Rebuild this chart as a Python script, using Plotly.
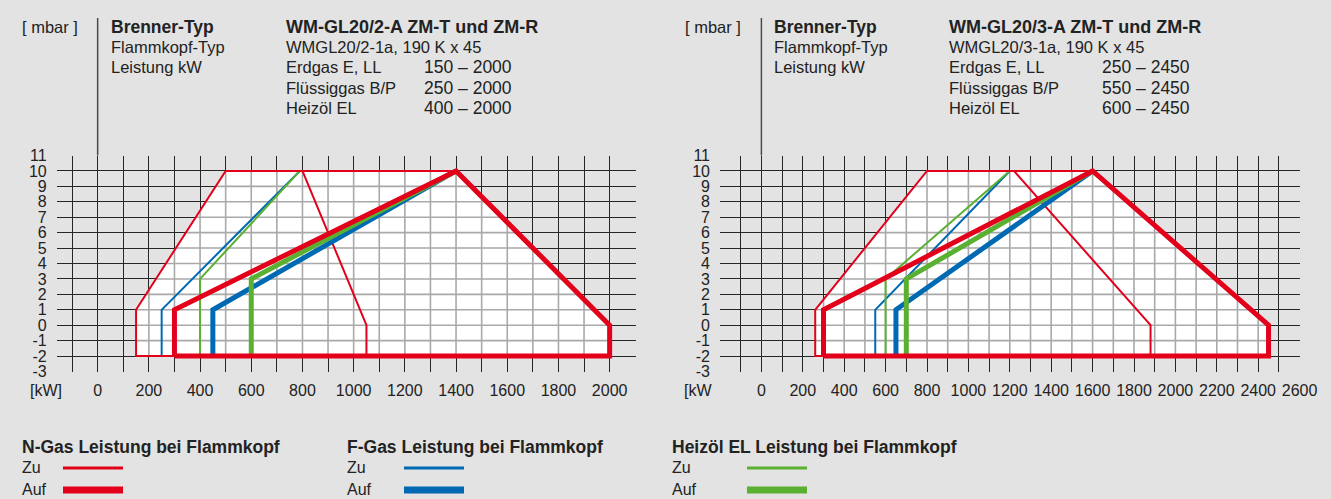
import plotly.graph_objects as go

W, H = 1331, 499
BG = "#e3e3e3"
RED, BLUE, GREEN = "#e3001b", "#0069b4", "#5ab031"
TXT = "#222222"
FONT = "Liberation Sans, Arial, Helvetica, sans-serif"

# ---------------- data: left chart (WM-GL20/2-A) ----------------
L_ENV_X = [150, 150, 500, 1400, 2000, 2000, 150]
L_ENV_Y = [-2, 1, 10, 10, 0, -2, -2]
L_NZU_X = [1050, 150, 150, 500, 1400, None, 800, 1050, 1050]
L_NZU_Y = [-2, -2, 1, 10, 10, None, 10, 0, -2]
L_NAUF_X = [300, 300, 1400, 2000, 2000, 300]
L_NAUF_Y = [-2, 1, 10, 0, -2, -2]
L_FZU_X = [250, 250, 790]
L_FZU_Y = [-2, 1, 10]
L_FAUF_X = [450, 450, 1400]
L_FAUF_Y = [-2, 1, 10]
L_HZU_X = [400, 400, 790]
L_HZU_Y = [-2, 3, 10]
L_HAUF_X = [600, 600, 1400]
L_HAUF_Y = [-2, 3, 10]

# ---------------- data: right chart (WM-GL20/3-A) ----------------
R_ENV_X = [260, 260, 800, 1600, 2450, 2450, 260]
R_ENV_Y = [-2, 1, 10, 10, 0, -2, -2]
R_NZU_X = [1880, 260, 260, 800, 1600, None, 1220, 1880, 1880]
R_NZU_Y = [-2, -2, 1, 10, 10, None, 10, 0, -2]
R_NAUF_X = [300, 300, 1600, 2450, 2450, 300]
R_NAUF_Y = [-2, 1, 10, 0, -2, -2]
R_FZU_X = [550, 550, 1200]
R_FZU_Y = [-2, 1, 10]
R_FAUF_X = [650, 650, 1600]
R_FAUF_Y = [-2, 1, 10]
R_HZU_X = [600, 600, 1200]
R_HZU_Y = [-2, 3, 10]
R_HAUF_X = [700, 700, 1600]
R_HAUF_Y = [-2, 3, 10]

Y_TICKS = list(range(-3, 12))
L_X_TICKS = list(range(0, 2001, 200))
R_X_TICKS = list(range(0, 2601, 200))
L_XRANGE = [-160, 2101]
R_XRANGE = [-200, 2601]

HEADERS = [
    {"title": "WM-GL20/2-A ZM-T und ZM-R", "kopf": "WMGL20/2-1a, 190 K x 45",
     "fuels": ["Erdgas E, LL", "Flüssiggas B/P", "Heizöl EL"],
     "ranges": ["150 – 2000", "250 – 2000", "400 – 2000"]},
    {"title": "WM-GL20/3-A ZM-T und ZM-R", "kopf": "WMGL20/3-1a, 190 K x 45",
     "fuels": ["Erdgas E, LL", "Flüssiggas B/P", "Heizöl EL"],
     "ranges": ["250 – 2450", "550 – 2450", "600 – 2450"]},
]
LEGEND_GROUPS = ["N-Gas Leistung bei Flammkopf", "F-Gas Leistung bei Flammkopf",
                 "Heizöl EL Leistung bei Flammkopf"]
LEGEND_COLORS = [RED, BLUE, GREEN]

GRID = "#262626"
GRID_IN = "#a9a9a9"


def clip(px, py, vertical, c):
    """Extent of the line x=c (vertical) or y=c inside the convex polygon."""
    hits = []
    for i in range(len(px) - 1):
        a = (px[i], py[i]) if vertical else (py[i], px[i])
        b = (px[i + 1], py[i + 1]) if vertical else (py[i + 1], px[i + 1])
        if a[0] == b[0]:
            if a[0] == c:
                hits += [a[1], b[1]]
        elif min(a[0], b[0]) <= c <= max(a[0], b[0]):
            t = (c - a[0]) / (b[0] - a[0])
            hits.append(a[1] + t * (b[1] - a[1]))
    return (min(hits), max(hits)) if hits else None


def inner_grid(px, py, xrng):
    gx, gy = [], []
    for c in range(int(xrng[0] // 100) * 100, int(xrng[1]) + 1, 100):
        r = clip(px, py, True, c)
        if r:
            gx += [c, c, None]
            gy += [r[0], r[1], None]
    for c in Y_TICKS:
        r = clip(px, py, False, c)
        if r:
            gx += [r[0], r[1], None]
            gy += [c, c, None]
    return gx, gy


fig = go.Figure()


def add_chart(xa, ya, env, xrng, series):
    ex, ey = env
    fig.add_trace(go.Scatter(x=ex, y=ey, xaxis=xa, yaxis=ya, mode="lines",
                             fill="toself", fillcolor="#ffffff",
                             line=dict(width=0), hoverinfo="skip", showlegend=False))
    gx, gy = inner_grid(ex, ey, xrng)
    fig.add_trace(go.Scatter(x=gx, y=gy, xaxis=xa, yaxis=ya, mode="lines",
                             line=dict(color=GRID_IN, width=1.6), connectgaps=False,
                             hoverinfo="skip", showlegend=False))
    for (sx, sy, col, w) in series:
        fig.add_trace(go.Scatter(x=sx, y=sy, xaxis=xa, yaxis=ya, mode="lines",
                                 line=dict(color=col, width=w), connectgaps=False,
                                 hoverinfo="skip", showlegend=False))


THIN, THICK = 2, 5
add_chart("x", "y", (L_ENV_X, L_ENV_Y), L_XRANGE, [
    (L_FZU_X, L_FZU_Y, BLUE, THIN), (L_HZU_X, L_HZU_Y, GREEN, THIN),
    (L_NZU_X, L_NZU_Y, RED, THIN),
    (L_FAUF_X, L_FAUF_Y, BLUE, THICK), (L_HAUF_X, L_HAUF_Y, GREEN, THICK),
    (L_NAUF_X, L_NAUF_Y, RED, THICK)])
add_chart("x2", "y2", (R_ENV_X, R_ENV_Y), R_XRANGE, [
    (R_FZU_X, R_FZU_Y, BLUE, THIN), (R_HZU_X, R_HZU_Y, GREEN, THIN),
    (R_NZU_X, R_NZU_Y, RED, THIN),
    (R_FAUF_X, R_FAUF_Y, BLUE, THICK), (R_HAUF_X, R_HAUF_Y, GREEN, THICK),
    (R_NAUF_X, R_NAUF_Y, RED, THICK)])

YDOM = [1 - 371.5 / H, 1 - 155.5 / H]
TICKSIZE = 16


def xaxis(dom, rng, ticks, anchor):
    return dict(domain=dom, range=rng, tickmode="array", tickvals=ticks,
                ticktext=[str(t) for t in ticks], showgrid=True, gridcolor=GRID,
                gridwidth=1.3, zeroline=False, showline=False, ticks="", anchor=anchor,
                automargin=False,
                ticklabelstandoff=7, tickfont=dict(family=FONT, size=TICKSIZE, color=TXT),
                minor=dict(dtick=100, tick0=0, showgrid=True, gridcolor=GRID, gridwidth=1.3),
                fixedrange=True)


def yaxis(anchor):
    return dict(domain=YDOM, range=[-3, 11], tickmode="array", tickvals=Y_TICKS,
                ticktext=[str(t) for t in Y_TICKS], showgrid=True, gridcolor=GRID,
                gridwidth=1.3, zeroline=False, showline=False, ticks="",
                ticklabelstandoff=9, anchor=anchor, automargin=False,
                tickfont=dict(family=FONT, size=TICKSIZE, color=TXT), fixedrange=True)


fig.update_layout(
    width=W, height=H, margin=dict(l=0, r=0, t=0, b=0, pad=0, autoexpand=False),
    autosize=False,
    paper_bgcolor=BG, plot_bgcolor=BG, showlegend=False,
    xaxis=xaxis([56.7 / W, 635.5 / W], L_XRANGE, L_X_TICKS, "y"),
    yaxis=yaxis("x"),
    xaxis2=xaxis([720 / W, 1299.8 / W], R_XRANGE, R_X_TICKS, "y2"),
    yaxis2=yaxis("x2"),
)

ann = []


def txt(px, py, s, bold=False, anchor="left", size=16.5):
    ann.append(dict(x=px / W, y=1 - py / H, xref="paper", yref="paper",
                    text=f"<b>{s}</b>" if bold else s, showarrow=False,
                    xanchor=anchor, yanchor="middle",
                    font=dict(family=FONT, size=size, color=TXT)))


shapes = []
for i, hd in enumerate(HEADERS):
    ox = 0 if i == 0 else 663
    txt(20 + ox, 27, "[ mbar ]")
    txt(109 + ox, 27, "Brenner-Typ", bold=True, size=17.5)
    txt(109 + ox, 47, "Flammkopf-Typ")
    txt(109 + ox, 67, "Leistung kW")
    txt(284 + ox, 27, hd["title"], bold=True, size=18)
    txt(284 + ox, 47, hd["kopf"])
    rx = 514 if i == 0 else 1192
    for j, (f, r) in enumerate(zip(hd["fuels"], hd["ranges"])):
        txt(284 + ox, 67 + 20.5 * j, f)
        txt(rx, 67 + 20.5 * j, r, anchor="right", size=17.5)
    xr = "x" if i == 0 else "x2"
    shapes.append(dict(type="line", xref=xr, yref="paper", x0=0, x1=0,
                       y0=YDOM[1], y1=1 - 18 / H, line=dict(color="#4a4a4a", width=1.5)))

txt(46, 390, "[kW]", anchor="center", size=TICKSIZE)
txt(698, 390, "[kW", anchor="center", size=TICKSIZE)

for k, (g, col) in enumerate(zip(LEGEND_GROUPS, LEGEND_COLORS)):
    gx = 20 + 325 * k
    txt(gx, 447, g, bold=True, size=17.5)
    txt(gx, 467, "Zu", size=16)
    txt(gx, 489, "Auf", size=16)
    lx0 = [63, 404, 747][k]
    shapes.append(dict(type="line", xref="paper", yref="paper", x0=lx0 / W, x1=(lx0 + 60) / W,
                       y0=1 - 468 / H, y1=1 - 468 / H, line=dict(color=col, width=3)))
    shapes.append(dict(type="line", xref="paper", yref="paper", x0=lx0 / W, x1=(lx0 + 60) / W,
                       y0=1 - 490 / H, y1=1 - 490 / H, line=dict(color=col, width=7)))

fig.update_layout(annotations=ann, shapes=shapes)
fig.write_html(
    "out.html",
    config={"responsive": False, "displayModeBar": False},
    post_script="document.body.style.margin='0';document.body.style.padding='0';"
                "document.body.style.overflow='hidden';",
)
